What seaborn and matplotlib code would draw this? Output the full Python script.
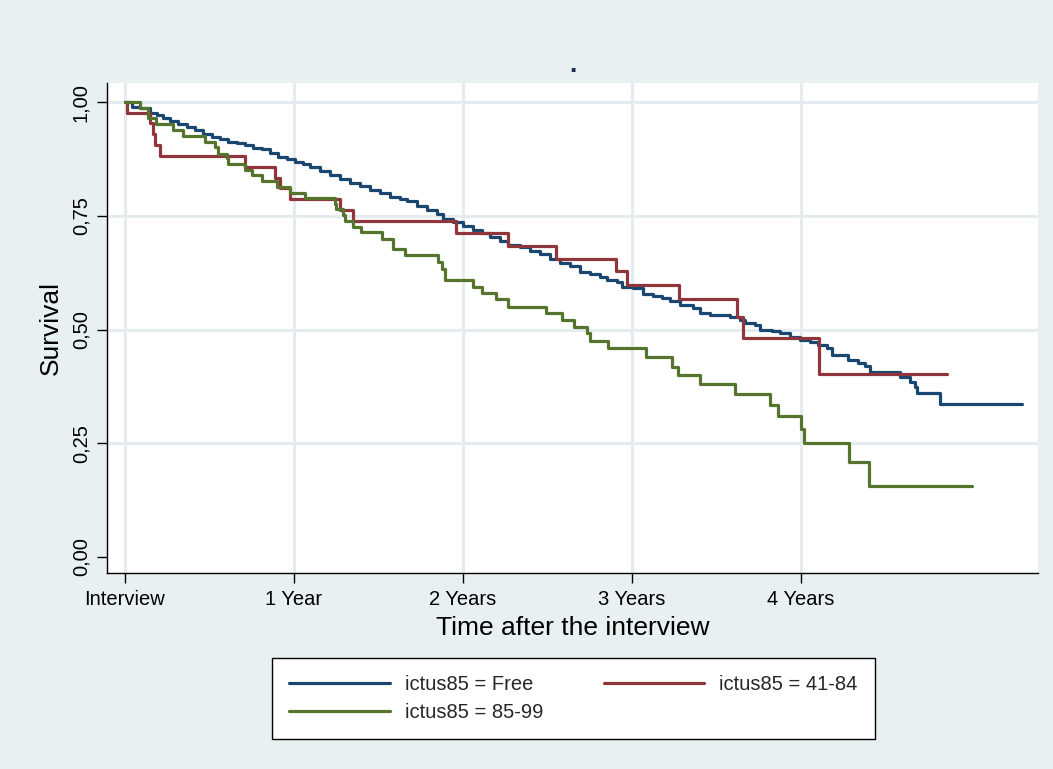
import numpy as np
import pandas as pd
import matplotlib
matplotlib.use("Agg")
import matplotlib.pyplot as plt
import seaborn as sns

# Kaplan-Meier estimates by group: event times in years after the interview,
# survival after each event; *_end is the final follow-up time of the group.
free_time = [0.000, 0.039, 0.089, 0.148, 0.187, 0.227, 0.266, 0.316, 0.365, 0.414,
             0.463, 0.513, 0.562, 0.611, 0.661, 0.710, 0.759, 0.809, 0.858, 0.907,
             0.957, 1.006, 1.055, 1.095, 1.154, 1.213, 1.272, 1.331, 1.391, 1.450,
             1.509, 1.568, 1.627, 1.667, 1.726, 1.785, 1.844, 1.884, 1.943, 2.002,
             2.061, 2.110, 2.160, 2.219, 2.268, 2.337, 2.396, 2.456, 2.515, 2.574,
             2.633, 2.692, 2.751, 2.811, 2.850, 2.909, 2.939, 3.008, 3.067, 3.126,
             3.176, 3.225, 3.284, 3.363, 3.402, 3.462, 3.580, 3.639, 3.669, 3.728,
             3.757, 3.826, 3.876, 3.935, 3.994, 4.053, 4.102, 4.152, 4.181, 4.280,
             4.339, 4.379, 4.408, 4.586, 4.645, 4.675, 4.688, 4.822]
free_surv = [1.000, 0.990, 0.986, 0.975, 0.971, 0.966, 0.958, 0.951, 0.946, 0.938,
             0.929, 0.924, 0.918, 0.913, 0.911, 0.905, 0.900, 0.896, 0.887, 0.880,
             0.874, 0.869, 0.863, 0.857, 0.849, 0.840, 0.830, 0.823, 0.815, 0.807,
             0.801, 0.791, 0.786, 0.783, 0.771, 0.763, 0.754, 0.742, 0.736, 0.727,
             0.719, 0.712, 0.703, 0.695, 0.686, 0.682, 0.673, 0.665, 0.656, 0.647,
             0.640, 0.627, 0.622, 0.616, 0.609, 0.605, 0.593, 0.591, 0.578, 0.574,
             0.569, 0.563, 0.554, 0.547, 0.537, 0.533, 0.528, 0.522, 0.514, 0.510,
             0.500, 0.497, 0.492, 0.484, 0.478, 0.473, 0.466, 0.459, 0.444, 0.434,
             0.427, 0.420, 0.407, 0.396, 0.385, 0.374, 0.361, 0.336]
free_end = 5.306

mid_time = [0.000, 0.014, 0.148, 0.164, 0.178, 0.207, 0.710, 0.888, 0.917, 0.976,
            1.272, 1.351, 1.959, 2.266, 2.550, 2.905, 2.970, 3.278, 3.621, 3.657,
            4.107]
mid_surv = [1.000, 0.976, 0.953, 0.929, 0.905, 0.881, 0.857, 0.833, 0.810, 0.786,
            0.762, 0.738, 0.712, 0.683, 0.655, 0.628, 0.598, 0.567, 0.527, 0.481,
            0.402]
mid_end = 4.866

high_time = [0.000, 0.089, 0.138, 0.183, 0.282, 0.345, 0.473, 0.533, 0.552, 0.601,
             0.611, 0.710, 0.750, 0.809, 0.898, 0.976, 1.065, 1.243, 1.249, 1.292,
             1.302, 1.351, 1.395, 1.523, 1.588, 1.657, 1.854, 1.874, 1.893, 2.061,
             2.114, 2.193, 2.268, 2.489, 2.588, 2.657, 2.736, 2.751, 2.856, 3.083,
             3.235, 3.274, 3.402, 3.609, 3.817, 3.866, 3.998, 4.018, 4.284, 4.404]
high_surv = [1.000, 0.988, 0.964, 0.951, 0.938, 0.926, 0.913, 0.902, 0.885, 0.876,
             0.863, 0.851, 0.840, 0.826, 0.814, 0.801, 0.790, 0.777, 0.764, 0.752,
             0.738, 0.726, 0.714, 0.700, 0.676, 0.663, 0.649, 0.634, 0.609, 0.594,
             0.580, 0.566, 0.550, 0.536, 0.521, 0.506, 0.492, 0.475, 0.459, 0.440,
             0.418, 0.399, 0.380, 0.358, 0.333, 0.310, 0.281, 0.250, 0.208, 0.156]
high_end = 5.010

groups = ["ictus85 = Free", "ictus85 = 41-84", "ictus85 = 85-99"]
colors = ["#1a476f", "#90353b", "#55752f"]

x_ticks = [0, 1, 2, 3, 4]
x_tick_labels = ["Interview", "1 Year", "2 Years", "3 Years", "4 Years"]
y_ticks = [0.0, 0.25, 0.5, 0.75, 1.0]
y_tick_labels = ["0,00", "0,25", "0,50", "0,75", "1,00"]

frames = []
for name, t, s, end in [(groups[0], free_time, free_surv, free_end),
                        (groups[1], mid_time, mid_surv, mid_end),
                        (groups[2], high_time, high_surv, high_end)]:
    tt = list(t) + [end]
    ss = list(s) + [s[-1]]
    frames.append(pd.DataFrame({"time": tt, "survival": ss, "group": name}))
df = pd.concat(frames, ignore_index=True)

sns.set_theme(style="white")
plt.rcParams["font.family"] = ["Liberation Sans", "DejaVu Sans"]

bg = "#e9f0f2"
grid_col = "#e4ecef"

fig = plt.figure(figsize=(10.53, 7.69), dpi=100, facecolor=bg)
ax = fig.add_axes([0.1016, 0.2549, 0.8842, 0.6371])
ax.set_facecolor("white")

sns.lineplot(data=df, x="time", y="survival", hue="group", hue_order=groups,
             palette=colors, estimator=None, sort=True, drawstyle="steps-post",
             linewidth=2.3, ax=ax, legend=True, zorder=3)

ax.set_xlim(-0.1065, 5.402)
ax.set_ylim(-0.0352, 1.0418)

ax.set_xticks(x_ticks)
ax.set_xticklabels(x_tick_labels, fontsize=14.5)
ax.set_yticks(y_ticks)
ax.set_yticklabels(y_tick_labels, fontsize=14.5, rotation=90, va="center")

for x in x_ticks:
    ax.axvline(x, color=grid_col, lw=2.2, zorder=1)
for y in y_ticks[1:]:
    ax.axhline(y, color=grid_col, lw=2.2, zorder=1)

for side in ["top", "right"]:
    ax.spines[side].set_visible(False)
for side in ["left", "bottom"]:
    ax.spines[side].set_color("black")
    ax.spines[side].set_linewidth(1.0)

ax.tick_params(axis="both", which="major", direction="out", length=7,
               width=1.0, color="black", labelcolor="black", pad=5,
               bottom=True, left=True)

ax.set_xlabel("Time after the interview", fontsize=19, color="black", labelpad=5)
ax.set_ylabel("Survival", fontsize=19, color="black", labelpad=6)
ax.set_title(".", fontsize=19, color="#1e2d53", fontweight="bold", pad=8)

# Legend laid out row by row: Free, 41-84 on the first row, 85-99 below.
handles, labels = ax.get_legend_handles_labels()
ax.get_legend().remove()
order = [0, 2, 1]
leg = fig.legend([handles[i] for i in order], [labels[i] for i in order],
                 loc="center", bbox_to_anchor=(0.5446, 0.0913),
                 ncol=2, fontsize=14.5, frameon=True, fancybox=False,
                 framealpha=1.0, handlelength=5.0, handletextpad=0.75,
                 columnspacing=3.0, labelspacing=0.45, borderpad=0.85)
leg.get_frame().set_edgecolor("black")
leg.get_frame().set_linewidth(1.0)
leg.get_frame().set_facecolor("white")
for line in leg.get_lines():
    line.set_linewidth(2.3)

fig.savefig("out.png", dpi=100, facecolor=bg)
